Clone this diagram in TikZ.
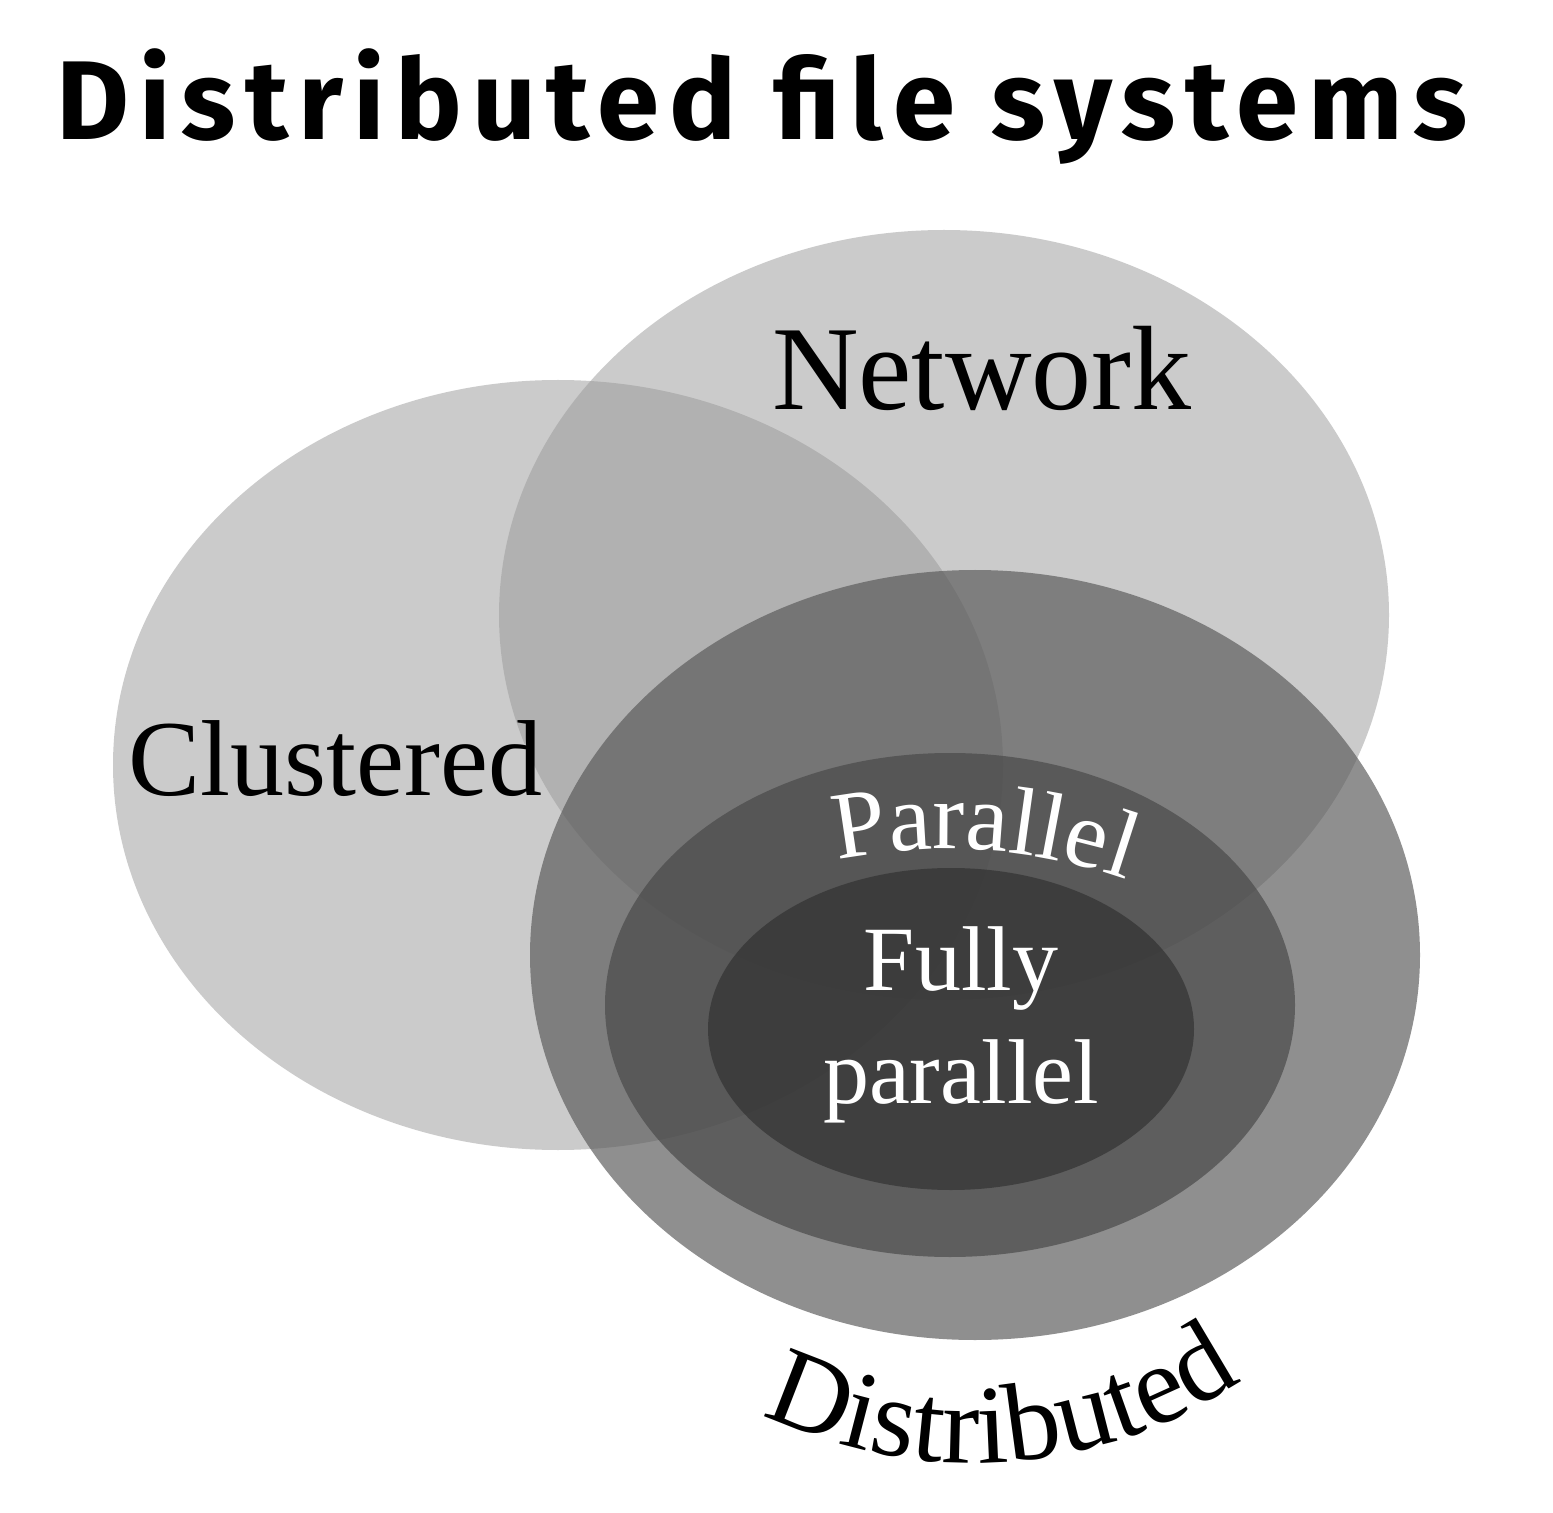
\documentclass[tikz,border=0pt]{standalone}
\usepackage{fontspec}
\setmainfont{Liberation Serif}
\newfontfamily\titlefont[LetterSpace=9]{Fira Sans}
\usetikzlibrary{shapes.geometric, decorations.text}
\tikzstyle{outerset} = [ellipse, fill=black!40, fill opacity=0.5, inner sep=0pt,
    minimum width=445pt, minimum height=385pt]
\tikzstyle{innerset} = [ellipse, fill opacity=0.67, inner sep=0pt]
\tikzstyle{setname} = [anchor=base, inner sep=0pt]

\begin{document}
\begin{tikzpicture}[x=0.5pt, y=-0.5pt]
    \useasboundingbox (0,0) rectangle (1553,1513);
    \fill [white] (0,0) rectangle (1553,1513);
    % Sets
    \node [outerset] (clustered) at (558,765) {};
    \node [outerset] (network) at (944,615) {};
    \node [innerset, fill=black!65, minimum width=445pt, minimum height=385pt] (distributed) at (975,955) {};
    \node [innerset, fill=black!72, minimum width=345pt, minimum height=252pt] (parallel) at (950,1005) {};
    \node [innerset, fill=black!81, minimum width=243pt, minimum height=161pt] (fully) at (951,1029) {};
    % Labels
    \node [setname, font=\titlefont\bfseries\fontsize{56}{64}\selectfont] (title) at (762,140) {Distributed file systems};
    \node [setname, font=\fontsize{60}{70}\selectfont] (networkname) at (982,410) {Network};
    \node [setname, font=\fontsize{54}{64}\selectfont] (clusteredname) at (335,795) {Clustered};
    \node [setname, font=\fontsize{46}{56.5}\selectfont, text=white, align=center] (fullyname) at (961,1103) {Fully\\parallel};
    \path [decorate, decoration={text along path, text align=center,
        text={|\fontsize{48}{50}\selectfont\color{white}|Parallel}}]
        (945,1398) ++(250:549) arc [start angle=250, end angle=298, radius=549];
    \path [decorate, decoration={text along path, text align=center,
        text={|\fontsize{56}{60}\selectfont|Distributed}}]
        (973,982) ++(125:481) arc [start angle=125, end angle=47, radius=481];
\end{tikzpicture}
\end{document}
